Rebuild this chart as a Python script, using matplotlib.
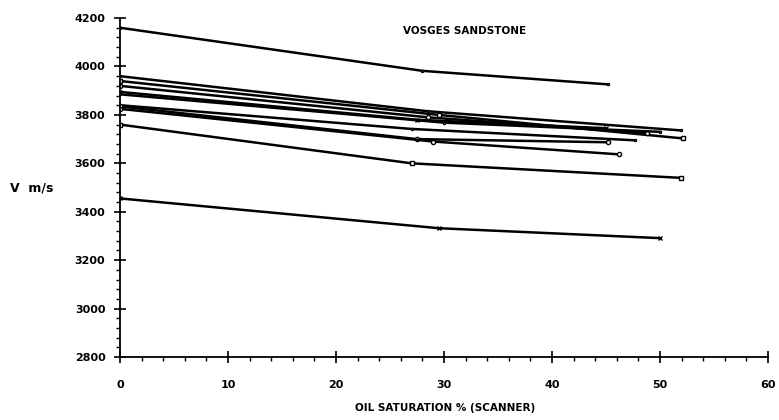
import matplotlib
matplotlib.use("Agg")
import matplotlib.pyplot as plt
from matplotlib.ticker import MultipleLocator

# ----------------------------------------------------
# Data
# ----------------------------------------------------
sat_1 = [0, 28.0, 45.2]
vel_1 = [4160, 3982, 3926]

sat_2 = [0, 28.5, 51.9]
vel_2 = [3960, 3815, 3736]

sat_3 = [0, 29.5, 52.1]
vel_3 = [3940, 3800, 3703]

sat_4 = [0, 28.5, 48.8]
vel_4 = [3920, 3790, 3724]

sat_5 = [0, 27.5, 45.0]
vel_5 = [3895, 3780, 3745]

sat_6 = [0, 30.0, 50.0]
vel_6 = [3885, 3768, 3730]

sat_7 = [0, 27.0, 47.7]
vel_7 = [3840, 3742, 3695]

sat_8 = [0, 27.5, 45.2]
vel_8 = [3835, 3700, 3687]

sat_9 = [0, 29.0, 46.2]
vel_9 = [3825, 3690, 3637]

sat_10 = [0, 27.0, 51.9]
vel_10 = [3760, 3600, 3540]

sat_11 = [0, 29.5, 50.0]
vel_11 = [3455, 3332, 3291]

series = [
    (sat_1, vel_1, "."),
    (sat_2, vel_2, "."),
    (sat_3, vel_3, "s"),
    (sat_4, vel_4, "o"),
    (sat_5, vel_5, "x"),
    (sat_6, vel_6, "."),
    (sat_7, vel_7, "."),
    (sat_8, vel_8, "o"),
    (sat_9, vel_9, "o"),
    (sat_10, vel_10, "s"),
    (sat_11, vel_11, "x"),
]

# ----------------------------------------------------
# Plot
# ----------------------------------------------------
plt.rcParams["font.family"] = "DejaVu Sans"
plt.rcParams["font.weight"] = "bold"

fig = plt.figure(figsize=(7.79, 4.2), dpi=100)
ax = fig.add_axes([0.154, 0.150, 0.832, 0.807])

for sat, vel, mk in series:
    ax.plot(sat, vel, color="black", linewidth=1.8, marker=mk,
            markersize=3.0, markerfacecolor="white", markeredgewidth=1.0)

ax.set_xlim(0, 60)
ax.set_ylim(2800, 4200)

ax.xaxis.set_major_locator(MultipleLocator(10))
ax.xaxis.set_minor_locator(MultipleLocator(2))
ax.yaxis.set_major_locator(MultipleLocator(200))
ax.yaxis.set_minor_locator(MultipleLocator(40))

ax.spines["top"].set_visible(False)
ax.spines["right"].set_visible(False)
ax.spines["left"].set_linewidth(1.3)
ax.spines["bottom"].set_linewidth(1.3)

ax.tick_params(axis="both", which="major", direction="inout", length=9,
               width=1.2, labelsize=8)
ax.tick_params(axis="both", which="minor", direction="out", length=3,
               width=1.0)
ax.tick_params(axis="x", which="major", pad=12)
ax.tick_params(axis="y", which="major", pad=6)

ax.text(31.9, 4148, "VOSGES SANDSTONE", fontsize=7.5, fontweight="bold",
        ha="center", va="center")

fig.text(0.013, 0.552, "V  m/s", fontsize=9, fontweight="bold",
         ha="left", va="center")
fig.text(0.571, 0.028, "OIL SATURATION % (SCANNER)", fontsize=7.5,
         fontweight="bold", ha="center", va="center")

plt.savefig("out.png", dpi=100)
plt.close()
